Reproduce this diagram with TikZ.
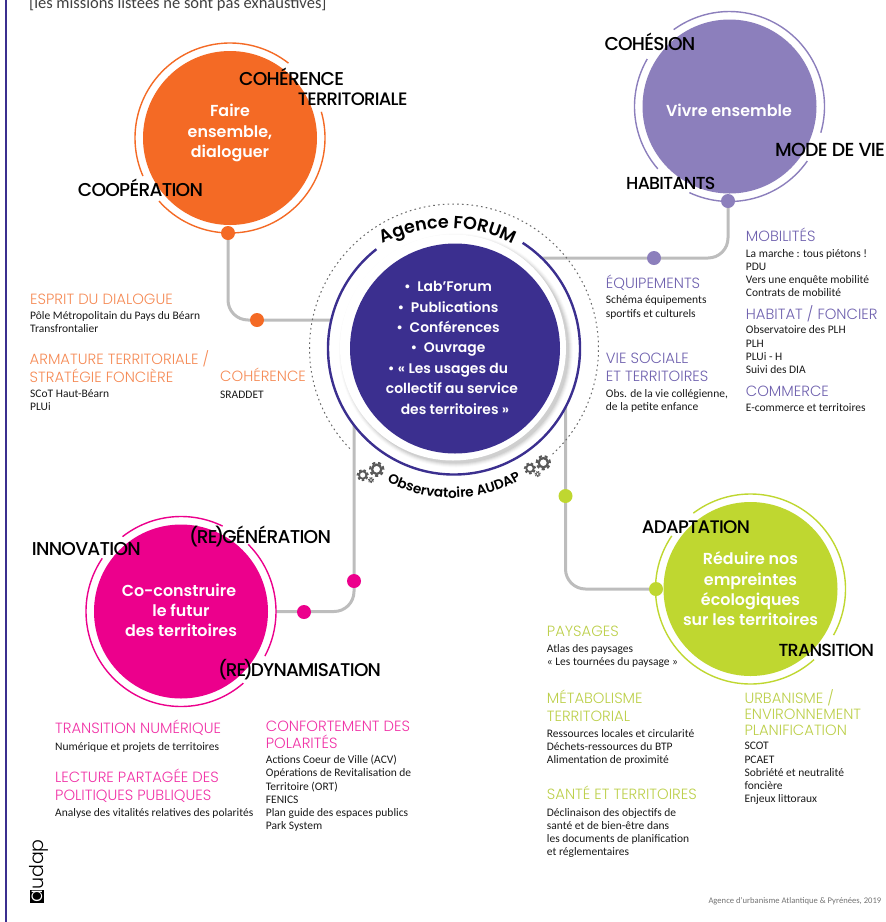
\documentclass[tikz,border=0pt]{standalone}
\usepackage{fontspec}
\usetikzlibrary{backgrounds,decorations.text}
\setmainfont{Carlito}
\newfontfamily\fHead{Poppins Light}
\newfontfamily\fLab[LetterSpace=-4]{Poppins Medium}
\newfontfamily\fWhite{Poppins SemiBold}
\newfontfamily\fArc{Poppins SemiBold}
\newfontfamily\fLogo{Poppins Light}
\definecolor{cOrange}{HTML}{F46A25}
\definecolor{cLilac}{HTML}{8C7FBC}
\definecolor{cMagenta}{HTML}{EC008C}
\definecolor{cGreen}{HTML}{BFD730}
\definecolor{cDeep}{HTML}{3B2F8F}
\definecolor{cLine}{HTML}{BDBDBD}
\definecolor{cHeadO}{HTML}{F58A55}
\definecolor{cHeadL}{HTML}{6F61AE}
\definecolor{cHeadM}{HTML}{F032A6}
\definecolor{cHeadG}{HTML}{BCCF4A}
\tikzset{
  x=1pt,y=1pt,
  disc/.style={circle,inner sep=0pt,minimum size=174pt,draw=none},
  halo/.style={circle,inner sep=0pt,minimum size=190pt,fill=white,draw=none},
  ring/.style={line width=1.4pt},
  dot/.style={circle,inner sep=0pt,minimum size=14pt,draw=none},
  conn/.style={cLine,line width=3pt,rounded corners=20pt},
  lab/.style={anchor=base west,inner sep=0pt,text=black,font=\fLab\fontsize{#1}{#1}\selectfont},
  lab/.default=18.6,
  body/.style={anchor=north west,inner sep=0pt,align=left,text=black!90,yshift=7.6pt,
     font=\fontsize{11.5}{13.2}\selectfont,execute at begin node=\strut},
  head/.style={anchor=north west,inner sep=0pt,align=left,yshift=12.6pt,
     font=\fHead\fontsize{14.8}{18}\selectfont,execute at begin node=\strut},
  lead/.style={anchor=north,inner sep=0pt,align=center,text=white,yshift=14pt,
     font=\fWhite\fontsize{15.9}{20.4}\selectfont,execute at begin node=\strut},
  gearc/.style={draw=black!65},
}
\newcommand{\gearat}[3]{%
  \draw[gearc,line width=#3*0.3pt] (#1,#2) circle ({#3*0.62});
  \draw[gearc,line width=#3*0.28pt,dash pattern=on {#3*0.42pt} off {#3*0.36pt}] (#1,#2) circle ({#3*0.88});
}
\begin{document}
\begin{tikzpicture}
\useasboundingbox (0,-922) rectangle (886,0);
\draw[cDeep,line width=2.4pt] (6,0) -- (6,-922);
\node[anchor=base west,inner sep=0pt,text=black!75,font=\fontsize{16.5}{17}\selectfont] (topnote) at (29,-8) {[les missions listées ne sont pas exhaustives]};

% forum
\node[circle,inner sep=0pt,minimum size=252pt,fill=white] (forumhalo) at (454,-348.5) {};
\foreach \r/\o in {117/.02,116/.03,115/.04,114/.05,113/.06}
  \fill[black,opacity=\o] (456,-350.5) circle (\r);
\node[circle,inner sep=0pt,minimum size=226pt,fill=white] (forumwhite) at (453,-347.5) {};
\node[circle,inner sep=0pt,minimum size=210pt,fill=cDeep] (forum) at (455,-348.5) {};
\draw[cDeep,line width=2.4pt] (forumhalo.center) ++(57:126) arc (57:-232:126);
\draw[black!60,line width=1pt,dash pattern=on 1.6pt off 3.2pt] (forumhalo.center) ++(-47:144.5) arc (-47:225:144.5);
\node[anchor=north,inner sep=0pt,align=center,text=white,yshift=14pt,
  font=\fWhite\fontsize{13.9}{20.4}\selectfont,execute at begin node=\strut] (forumtext) at (448,-295.2)
  {• \ Lab’Forum\\• \ Publications\\• \ Conférences\\• \ Ouvrage\\• « Les usages du\\\hspace*{8pt}collectif au service\\\hspace*{14pt}des territoires »};
\path[decorate,decoration={text along path,text align=center,text={|\fArc\fontsize{17.6}{17.6}\selectfont|Agence FORUM}}]
  (448,-370) ++(125:142) arc (125:55:142);
\path[decorate,decoration={text along path,text align=center,text={|\fArc\fontsize{13.6}{13.6}\selectfont|Observatoire AUDAP}}]
  (452,-362) ++(235:136) arc (235:307:136);
\gearat{376.7}{-469.3}{7.5}\gearat{362.7}{-475}{6}\gearat{371}{-480}{3}
\gearat{543.3}{-462.7}{7.5}\gearat{530}{-468.3}{6}\gearat{537.7}{-474}{3}

% orange
\node[halo] (orangehalo) at (230,-138) {};
\node[disc,fill=cOrange] (orange) at (230,-138) {};
\draw[ring,cOrange] (orange.center) ++(52:95) arc (52:203.6:95);
\draw[ring,cOrange] (orange.center) ++(221.6:95) arc (221.6:376:95);
\node[dot,fill=cOrange] (dotOa) at (228,-233) {};
\node[dot,fill=cOrange] (dotOb) at (257,-320) {};
\node[lead] (orangetext) at (230,-118) {Faire\\ensemble,\\dialoguer};

% lilac
\node[halo] (lilachalo) at (729.5,-106.5) {};
\node[disc,fill=cLilac] (lilac) at (729.5,-106.5) {};
\draw[ring,cLilac] (lilac.center) ++(-16:95) arc (-16:126:95);
\draw[ring,cLilac] (lilac.center) ++(150:95) arc (150:221:95);
\draw[ring,cLilac] (lilac.center) ++(245:95) arc (245:325:95);
\node[dot,fill=cLilac] (dotLa) at (728,-201) {};
\node[dot,fill=cLilac] (dotLb) at (654,-258) {};
\node[lead] (lilactext) at (729,-116) {Vivre ensemble};

% magenta
\node[halo] (magentahalo) at (181,-611.5) {};
\node[disc,fill=cMagenta] (magenta) at (181,-611.5) {};
\draw[ring,cMagenta] (magenta.center) ++(-28:95) arc (-28:45:95);
\draw[ring,cMagenta] (magenta.center) ++(64:95) arc (64:128:95);
\draw[ring,cMagenta] (magenta.center) ++(146:95) arc (146:311:95);
\node[dot,fill=cMagenta] (dotMa) at (354,-581) {};
\node[dot,fill=cMagenta] (dotMb) at (304,-612) {};
\node[lead] (magentatext) at (179,-597.5) {Co-construire\\\hspace*{4pt}le futur\\\hspace*{4pt}des territoires};

% green
\node[halo] (greenhalo) at (750.5,-589) {};
\node[disc,fill=cGreen] (green) at (750.5,-589) {};
\draw[ring,cGreen] (green.center) ++(-29:95) arc (-29:127:95);
\draw[ring,cGreen] (green.center) ++(146:95) arc (146:312:95);
\node[dot,fill=cGreen] (dotGa) at (656,-589) {};
\node[dot,fill=cGreen] (dotGb) at (565.5,-496) {};
\node[lead] (greentext) at (750.5,-565.5) {Réduire nos\\empreintes\\écologiques\\sur les territoires};

% connectors
\begin{scope}[on background layer]
\draw[conn] (dotOa.center) |- (forum.center |- dotOb.center);
\draw[conn] (dotLa.center) |- (forum.center |- dotLb.center);
\draw[conn] (magenta.center) -| (forum.center -| dotMa.center);
\draw[conn] (green.center) -| (forum.center -| dotGb.center);
\end{scope}

% black labels
\node[lab] (lCoherence) at (239,-85) {COHÉRENCE};
\node[lab=18] (lTerritoriale) at (297.7,-105) {TERRITORIALE};
\node[lab] (lCooperation) at (77.7,-196.7) {COOPÉRATION};
\node[lab] (lCohesion) at (604.3,-50) {COHÉSION};
\node[lab=18.9] (lMode) at (775,-156) {MODE DE VIE};
\node[lab=17.4] (lHabitants) at (626,-189.3) {HABITANTS};
\node[lab] (lInnovation) at (31.7,-555.7) {INNOVATION};
\node[lab] (lRegen) at (189,-543.3) {(\kern-1.5pt RE\kern-2.5pt)\kern-2ptGÉNÉRATION};
\node[lab=18.4] (lRedyn) at (218,-676.7) {(\kern-1.5pt RE\kern-2.5pt)\kern-2ptDYNAMISATION};
\node[lab=18.2] (lAdapt) at (641.7,-533.3) {ADAPTATION};
\node[lab=17.5] (lTrans) at (778.3,-656.7) {TRANSITION};

% orange texts
\node[head,text=cHeadO] (hO1) at (30,-304) {ESPRIT DU DIALOGUE};
\node[body] (bO1) at (30,-319) {Pôle Métropolitain du Pays du Béarn\\Transfrontalier};
\node[head,text=cHeadO] (hO2) at (29.5,-362.7) {ARMATURE TERRITORIALE /\\STRATÉGIE FONCIÈRE};
\node[body] (bO2) at (30,-396.7) {SCoT Haut-Béarn\\PLUi};
\node[head,text=cHeadO] (hO3) at (220,-380.7) {COHÉRENCE};
\node[body] (bO3) at (220,-396.7) {SRADDET};

% lilac texts
\node[head,text=cHeadL] (hL1) at (745.7,-240.5) {MOBILITÉS};
\node[body] (bL1) at (745.7,-256.7) {La marche : tous piétons !\\PDU\\Vers une enquête mobilité\\Contrats de mobilité};
\node[head,text=cHeadL] (hL2) at (745.7,-317.7) {HABITAT / FONCIER};
\node[body] (bL2) at (745.7,-333.3) {Observatoire des PLH\\PLH\\PLUi - H\\Suivi des DIA};
\node[head,text=cHeadL] (hL3) at (745.7,-396.7) {COMMERCE};
\node[body] (bL3) at (745.7,-409.3) {E-commerce et territoires};
\node[head,text=cHeadL] (hL4) at (605.7,-287.8) {ÉQUIPEMENTS};
\node[body] (bL4) at (605.7,-303.3) {Schéma équipements\\sportifs et culturels};
\node[head,text=cHeadL] (hL5) at (605.7,-365.8) {VIE SOCIALE\\ET TERRITOIRES};
\node[body] (bL5) at (605.7,-396.7) {Obs. de la vie collégienne,\\de la petite enfance};

% magenta texts
\node[head,text=cHeadM] (hM1) at (55,-732) {TRANSITION NUMÉRIQUE};
\node[body] (bM1) at (55,-748.3) {Numérique et projets de territoires};
\node[head,text=cHeadM] (hM2) at (55,-781.2) {LECTURE PARTAGÉE DES\\POLITIQUES PUBLIQUES};
\node[body] (bM2) at (55,-814.3) {Analyse des vitalités relatives des polarités};
\node[head,text=cHeadM,font=\fHead\fontsize{14.8}{17}\selectfont] (hM3) at (265.7,-733.7) {CONFORTEMENT DES\\POLARITÉS};
\node[body] (bM3) at (265.7,-762.7) {Actions Coeur de Ville (ACV)\\Opérations de Revitalisation de\\Territoire (ORT)\\FENICS\\Plan guide des espaces publics\\Park System};

% green texts
\node[head,text=cHeadG] (hG1) at (546.7,-636) {PAYSAGES};
\node[body] (bG1) at (546.7,-651.7) {Atlas des paysages\\« Les tournées du paysage »};
\node[head,text=cHeadG] (hG2) at (546.7,-702) {MÉTABOLISME\\TERRITORIAL};
\node[body] (bG2) at (546.7,-736.7) {Ressources locales et circularité\\Déchets-ressources du BTP\\Alimentation de proximité};
\node[head,text=cHeadG] (hG3) at (546.7,-798.3) {SANTÉ ET TERRITOIRES};
\node[body] (bG3) at (546.7,-815.7) {Déclinaison des objectifs de\\santé et de bien-être dans\\les documents de planification\\et réglementaires};
\node[head,text=cHeadG,font=\fHead\fontsize{14.8}{16.3}\selectfont] (hG4) at (744.3,-701.7) {URBANISME /\\ENVIRONNEMENT\\PLANIFICATION};
\node[body] (bG4) at (744.3,-749.8) {SCOT\\PCAET\\Sobriété et neutralité\\foncière\\Enjeux littoraux};

\node[anchor=base west,inner sep=0pt,text=black!55,font=\fontsize{8.6}{10}\selectfont] (credit) at (708.3,-903) {Agence d’urbanisme Atlantique \& Pyrénées, 2019};

% logo
\node[anchor=south west,inner sep=0pt,minimum width=14pt,minimum height=13pt,fill=black] (logobox) at (30,-903) {};
\node[rotate=90,inner sep=0pt,text=white,font=\fLogo\fontsize{19}{19}\selectfont] (logoa) at (logobox.center) {a};
\node[rotate=90,anchor=base west,inner sep=0pt,text=black,font=\fLogo\fontsize{19}{19}\selectfont] (logotxt) at (43,-890) {udap};
\end{tikzpicture}
\end{document}
